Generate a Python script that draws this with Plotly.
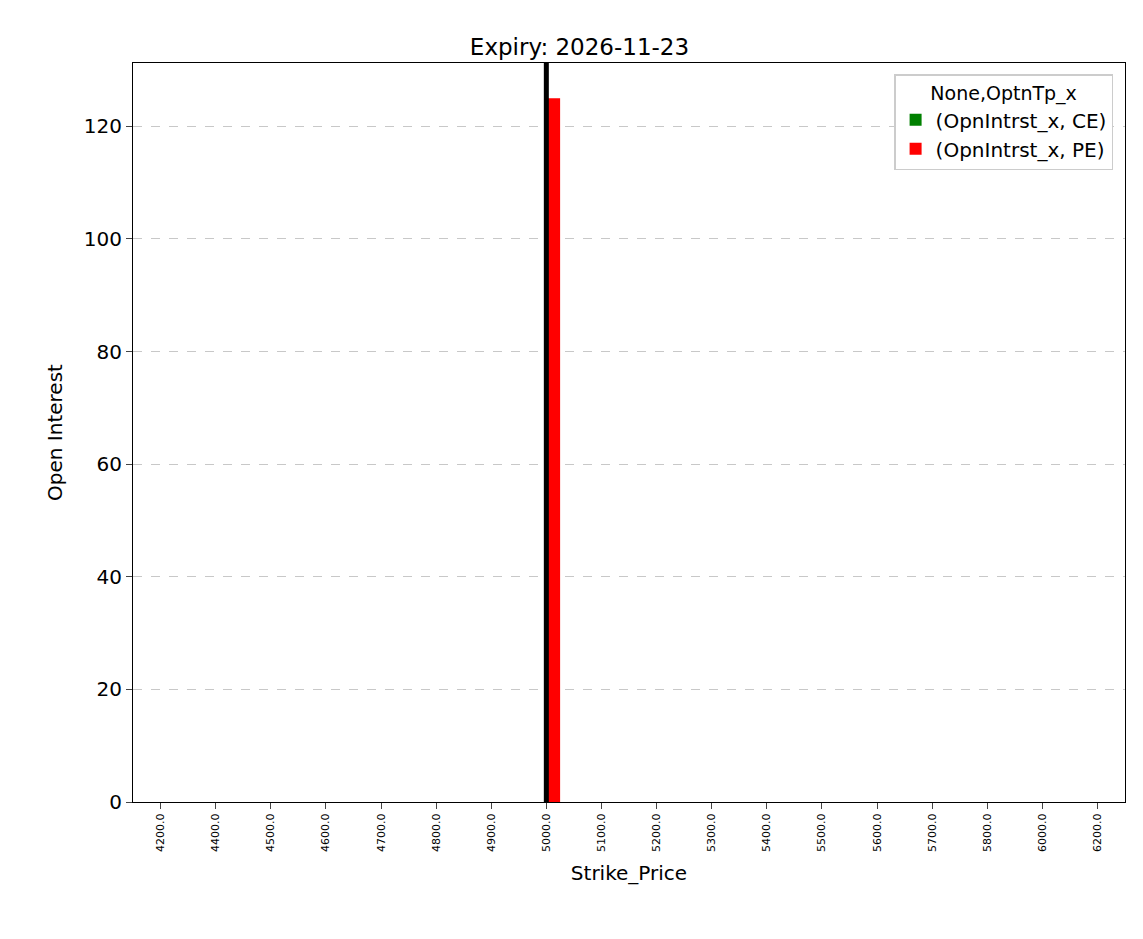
import plotly.graph_objects as go

strikes = ["4200.0","4400.0","4500.0","4600.0","4700.0","4800.0","4900.0","5000.0","5100.0",
           "5200.0","5300.0","5400.0","5500.0","5600.0","5700.0","5800.0","6000.0","6200.0"]
ce_oi = [0]*18
pe_oi = [0,0,0,0,0,0,0,125,0,0,0,0,0,0,0,0,0,0]
spot_strike = "5000.0"

idx = list(range(len(strikes)))
fig = go.Figure()
fig.add_bar(x=idx, y=ce_oi, offset=-0.25, width=0.25, marker_color="green",
            marker_line_width=0, name="(OpnIntrst_x, CE)")
fig.add_bar(x=idx, y=pe_oi, offset=0, width=0.25, marker_color="red",
            marker_line_width=0, name="(OpnIntrst_x, PE)")
fig.add_vline(x=strikes.index(spot_strike), line_color="black", line_width=5)

fig.update_layout(
    width=1143, height=939, plot_bgcolor="white", paper_bgcolor="white",
    margin=dict(l=125, r=26, t=55, b=145),
    font=dict(family="DejaVu Sans", color="black", size=20),
    title=dict(text="Expiry: 2026-11-23", x=0.5, xanchor="center", y=0.967, font=dict(size=23)),
    barmode="overlay",
    legend=dict(title=dict(text="None,OptnTp_x", side="top center", font=dict(size=19)),
                x=0.988, y=0.985, xanchor="right",
                yanchor="top", bordercolor="#cccccc", borderwidth=1.5, font=dict(size=20)),
)
fig.update_xaxes(range=[-0.5, 17.5], tickvals=idx, ticktext=strikes, tickangle=-90,
                 tickfont=dict(size=11), ticks="outside", ticklen=6, showline=True,
                 linecolor="black", mirror=True, showgrid=False,
                 title=dict(text="Strike_Price", font=dict(size=20)))
fig.update_yaxes(range=[0, 131.25], dtick=20, ticks="outside", ticklen=6, showline=True,
                 linecolor="black", mirror=True, showgrid=True, gridcolor="#c8c8c8",
                 griddash="dash", zeroline=False,
                 title=dict(text="Open Interest", font=dict(size=20)))
fig.write_html("out.html")
